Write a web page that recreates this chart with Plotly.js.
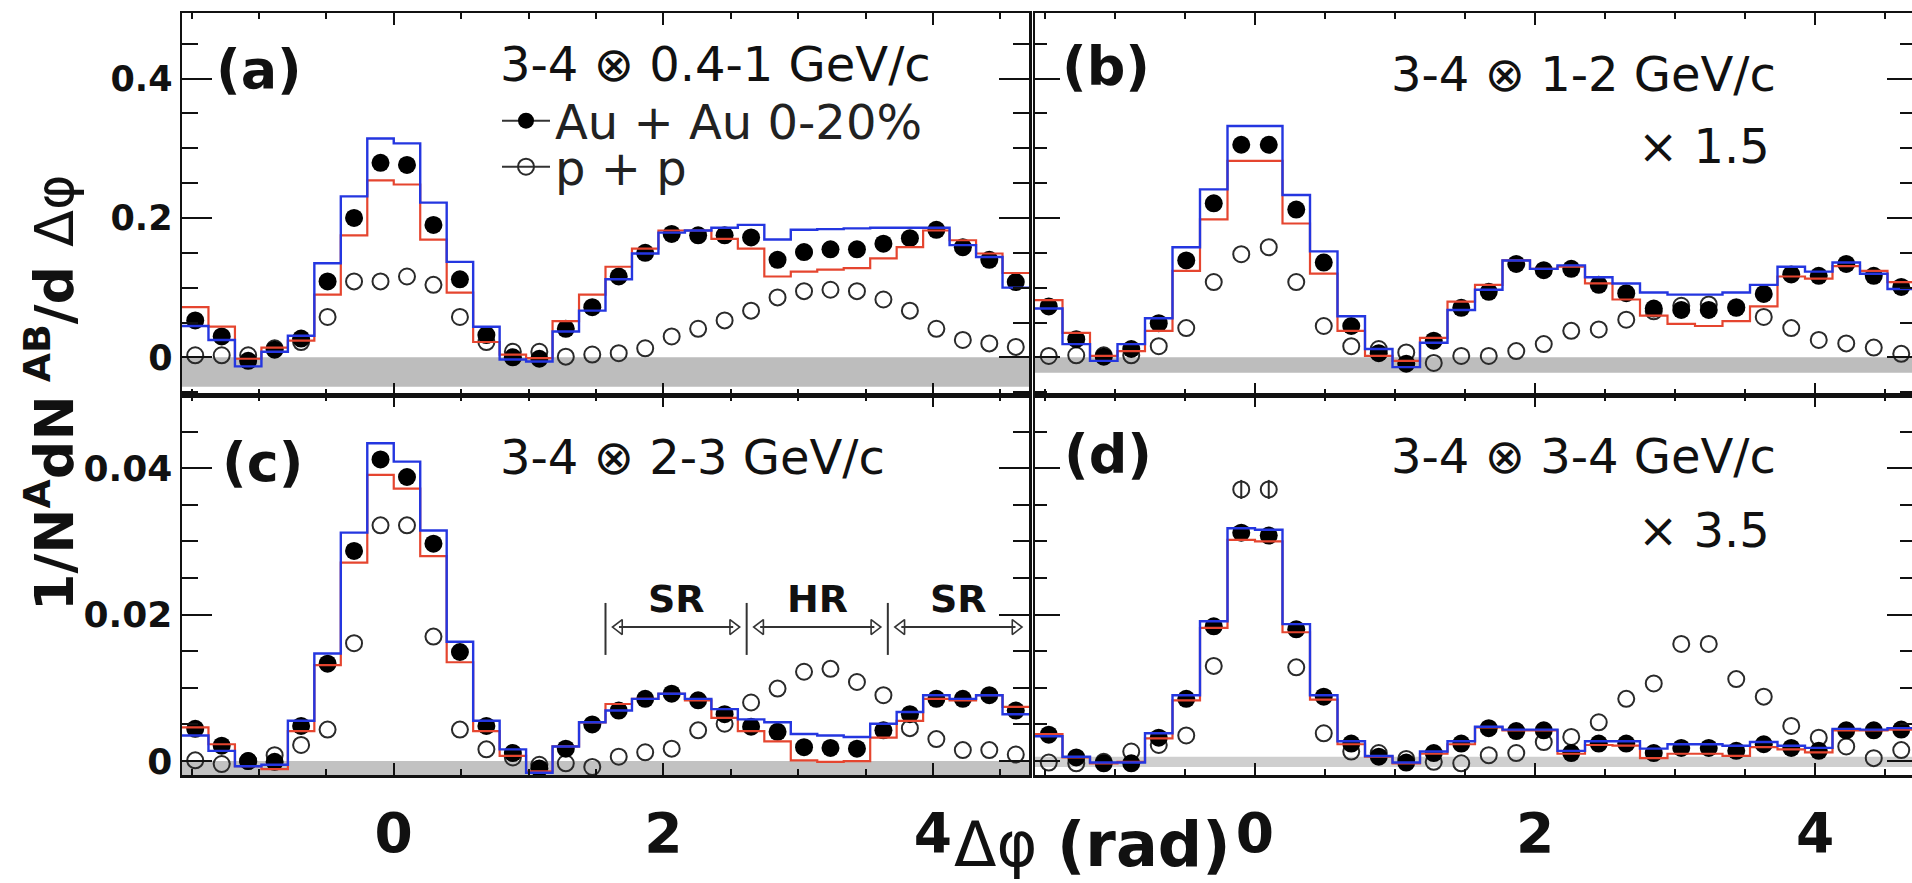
<!DOCTYPE html>
<html><head><meta charset="utf-8">
<script src="https://cdn.plot.ly/plotly-3.0.1.min.js"></script>
<style>html,body{margin:0;padding:0;background:#fff;overflow:hidden}#chart{width:1912px;height:883px}</style>
</head><body><div id="chart"></div>
<script>
const W = 1912, H = 883;
const PI = Math.PI;
const PHI_MIN = -PI / 2, PHI_MAX = 3 * PI / 2, N_BINS = 32;
const BIN_W = (PHI_MAX - PHI_MIN) / N_BINS;
const dphiCenters = Array.from({length: N_BINS}, (_, k) => PHI_MIN + (k + 0.5) * BIN_W);
const dphiEdges = Array.from({length: N_BINS + 1}, (_, k) => PHI_MIN + k * BIN_W);

// ---- panel (a): 3-4 x 0.4-1 GeV/c
const auauA = [0.053,0.030,-0.005,0.011,0.027,0.109,0.200,0.279,0.276,0.190,0.112,0.032,0.000,-0.002,0.041,0.072,0.116,0.150,0.177,0.175,0.175,0.172,0.140,0.151,0.155,0.155,0.163,0.171,0.183,0.158,0.140,0.108];
const ppA   = [0.003,0.003,0.003,0.013,0.022,0.058,0.109,0.109,0.116,0.104,0.058,0.022,0.008,0.008,0.001,0.004,0.006,0.013,0.030,0.041,0.053,0.067,0.086,0.095,0.097,0.095,0.083,0.067,0.041,0.025,0.020,0.015];
const blueA = [0.045,0.025,-0.013,0.008,0.031,0.135,0.231,0.314,0.307,0.222,0.137,0.044,-0.003,-0.006,0.037,0.067,0.112,0.149,0.179,0.182,0.186,0.190,0.169,0.183,0.184,0.185,0.186,0.186,0.186,0.161,0.144,0.100];
const redA  = [0.072,0.044,-0.002,0.014,0.024,0.090,0.175,0.254,0.248,0.169,0.093,0.022,0.004,-0.001,0.052,0.090,0.130,0.156,0.182,0.182,0.170,0.156,0.116,0.123,0.126,0.128,0.142,0.158,0.182,0.168,0.149,0.121];

// ---- panel (b): 3-4 x 1-2 GeV/c (x1.5)
const auauB = [0.073,0.026,0.001,0.012,0.049,0.139,0.221,0.305,0.305,0.212,0.136,0.045,0.006,-0.009,0.024,0.071,0.094,0.134,0.125,0.127,0.104,0.092,0.070,0.068,0.068,0.071,0.091,0.119,0.117,0.134,0.117,0.101];
const ppB   = [0.002,0.003,0.003,0.003,0.016,0.042,0.108,0.148,0.158,0.108,0.045,0.016,0.012,0.007,-0.008,0.002,0.002,0.009,0.019,0.038,0.040,0.054,0.066,0.074,0.076,0.072,0.058,0.042,0.025,0.020,0.014,0.005];
const blueB = [0.070,0.019,-0.005,0.019,0.056,0.158,0.241,0.332,0.332,0.233,0.152,0.059,0.012,-0.014,0.021,0.068,0.097,0.139,0.127,0.132,0.115,0.106,0.093,0.090,0.090,0.093,0.104,0.130,0.123,0.136,0.120,0.098];
const redB  = [0.082,0.035,0.002,0.009,0.038,0.124,0.198,0.282,0.282,0.192,0.120,0.038,0.002,-0.005,0.028,0.080,0.104,0.139,0.127,0.130,0.106,0.083,0.060,0.048,0.045,0.052,0.073,0.116,0.113,0.131,0.124,0.108];

// ---- panel (c): 3-4 x 2-3 GeV/c
const auauC = [0.0044,0.0021,0.0000,-0.0001,0.0048,0.0133,0.0287,0.0412,0.0388,0.0297,0.0149,0.0048,0.0011,-0.0010,0.0017,0.0050,0.0069,0.0085,0.0092,0.0083,0.0064,0.0047,0.0040,0.0019,0.0018,0.0017,0.0042,0.0064,0.0085,0.0085,0.0090,0.0069];
const ppC   = [0.0001,-0.0004,0.0000,0.0008,0.0022,0.0043,0.0161,0.0322,0.0322,0.0170,0.0043,0.0016,0.0005,-0.0005,-0.0003,-0.0008,0.0006,0.0012,0.0017,0.0042,0.0051,0.0080,0.0099,0.0122,0.0126,0.0108,0.0090,0.0045,0.0030,0.0015,0.0015,0.0009];
const blueC = [0.0035,0.0014,-0.0007,-0.0005,0.0055,0.0147,0.0312,0.0434,0.0409,0.0315,0.0163,0.0055,0.0016,-0.0016,0.0020,0.0053,0.0069,0.0085,0.0092,0.0085,0.0071,0.0057,0.0053,0.0037,0.0035,0.0033,0.0051,0.0067,0.0090,0.0085,0.0090,0.0064];
const redC  = [0.0046,0.0023,-0.0007,-0.0011,0.0041,0.0131,0.0271,0.0391,0.0372,0.0280,0.0135,0.0041,0.0007,-0.0014,0.0020,0.0053,0.0078,0.0085,0.0092,0.0083,0.0059,0.0041,0.0027,0.0001,-0.0001,0.0000,0.0032,0.0055,0.0085,0.0083,0.0090,0.0074];

// ---- panel (d): 3-4 x 3-4 GeV/c (x3.5)
const auauD = [0.0036,0.0005,-0.0003,-0.0003,0.0032,0.0085,0.0184,0.0312,0.0308,0.0180,0.0088,0.0024,0.0006,-0.0002,0.0011,0.0024,0.0045,0.0041,0.0042,0.0011,0.0024,0.0024,0.0011,0.0018,0.0018,0.0014,0.0023,0.0018,0.0014,0.0042,0.0042,0.0043];
const ppD   = [-0.0002,-0.0003,-0.0001,0.0013,0.0022,0.0035,0.0130,0.0371,0.0371,0.0128,0.0038,0.0013,0.0011,0.0003,-0.0001,-0.0003,0.0008,0.0011,0.0026,0.0033,0.0053,0.0085,0.0106,0.0160,0.0160,0.0112,0.0088,0.0048,0.0032,0.0020,0.0004,0.0015];
const ppErrD = [0,0,0,0,0,0,0,0.0013,0.0013,0,0,0,0,0,0,0,0,0,0,0,0,0,0,0,0,0,0,0,0,0,0,0];
const blueD = [0.0034,0.0006,-0.0002,-0.0002,0.0038,0.0090,0.0191,0.0318,0.0316,0.0187,0.0090,0.0027,0.0007,-0.0002,0.0013,0.0027,0.0047,0.0043,0.0043,0.0014,0.0027,0.0027,0.0017,0.0023,0.0023,0.0021,0.0026,0.0021,0.0018,0.0044,0.0043,0.0045];
const redD  = [0.0037,0.0005,-0.0003,-0.0001,0.0031,0.0083,0.0182,0.0302,0.0300,0.0176,0.0084,0.0023,0.0006,-0.0003,0.0010,0.0023,0.0046,0.0042,0.0042,0.0010,0.0022,0.0021,0.0004,0.0010,0.0010,0.0007,0.0019,0.0016,0.0012,0.0042,0.0042,0.0043];

// gray normalisation bands [low, high]
const bandA = [-0.042, 0.0];
const bandB = [-0.022, 0.0];
const bandC = [-0.0019, 0.0];
const bandD = [-0.0008, 0.0006];

// Away-side regions (panel c)
const regionEdges = [PI / 2, 5 * PI / 6, 7 * PI / 6, 3 * PI / 2];
const regionLabels = ['SR', 'HR', 'SR'];

const panelTitles = ['3-4 \u2297 0.4-1 GeV/c', '3-4 \u2297 1-2 GeV/c', '3-4 \u2297 2-3 GeV/c', '3-4 \u2297 3-4 GeV/c'];
const panelTags = ['(a)', '(b)', '(c)', '(d)'];
const scaleTags = ['\u00d7 1.5', '\u00d7 3.5'];
const seriesNames = ['Au + Au 0-20%', 'p + p'];
const xTickVals = [0, 2, 4];

// ---------------- helpers
const px = x => x / W;
const py = y => 1 - y / H;
const FONT = 'DejaVu Sans';
const BLUE = '#2436e0', RED = '#e5452f', INK = '#111';

function stepY(v) { return v.concat([v[v.length - 1]]); }

function panelTraces(xa, ya, auau, pp, blue, red, ppErr) {
  const t = [];
  t.push({type: 'scatter', mode: 'markers', x: dphiCenters, y: pp, xaxis: xa, yaxis: ya, showlegend: false,
    marker: {symbol: 'circle-open', size: 16, color: '#2a2a2a', line: {width: 2, color: '#2a2a2a'}},
    error_y: ppErr ? {type: 'data', array: ppErr, visible: true, color: '#2a2a2a', thickness: 2, width: 0} : undefined});
  t.push({type: 'scatter', mode: 'markers', x: dphiCenters, y: auau, xaxis: xa, yaxis: ya, showlegend: false,
    marker: {symbol: 'circle', size: 18, color: '#000'}});
  t.push({type: 'scatter', mode: 'lines', x: dphiEdges, y: stepY(red), xaxis: xa, yaxis: ya, showlegend: false,
    line: {shape: 'hv', color: RED, width: 2.2}});
  t.push({type: 'scatter', mode: 'lines', x: dphiEdges, y: stepY(blue), xaxis: xa, yaxis: ya, showlegend: false,
    line: {shape: 'hv', color: BLUE, width: 2.4}});
  return t;
}

let traces = [];
traces = traces.concat(panelTraces('x', 'y', auauA, ppA, blueA, redA));
traces = traces.concat(panelTraces('x2', 'y2', auauB, ppB, blueB, redB));
traces = traces.concat(panelTraces('x3', 'y3', auauC, ppC, blueC, redC));
traces = traces.concat(panelTraces('x4', 'y4', auauD, ppD, blueD, redD, ppErrD));

// legend entries (key only)
traces.push({type: 'scatter', mode: 'lines+markers', x: [null], y: [null], name: seriesNames[0], legend: 'legend',
  marker: {symbol: 'circle', size: 16, color: '#000'}, line: {color: '#333', width: 2}});
traces.push({type: 'scatter', mode: 'lines+markers', x: [null], y: [null], name: seriesNames[1], legend: 'legend2',
  marker: {symbol: 'circle-open', size: 16, color: '#2a2a2a', line: {width: 2}}, line: {color: '#333', width: 2}});

// region arrows heads
const arrowY = 0.0183, gap = 0.1;
const headL = regionEdges.slice(0, 3).map(e => e + gap);
const headR = regionEdges.slice(1).map(e => e - gap);
traces.push({type: 'scatter', mode: 'markers', x: headL, y: headL.map(() => arrowY), xaxis: 'x3', yaxis: 'y3', showlegend: false,
  marker: {symbol: 'triangle-left-open', size: 13, color: '#333', line: {width: 1.6}}});
traces.push({type: 'scatter', mode: 'markers', x: headR, y: headR.map(() => arrowY), xaxis: 'x3', yaxis: 'y3', showlegend: false,
  marker: {symbol: 'triangle-right-open', size: 13, color: '#333', line: {width: 1.6}}});

// ---------------- axes
const LEFT_X = [182, 1029], RIGHT_X = [1035, 1915];
const TOP_Y = [13, 395], BOT_Y = [395, 775];
const rightEnd = PHI_MIN + (W - RIGHT_X[0]) / (RIGHT_X[1] - RIGHT_X[0]) * (PHI_MAX - PHI_MIN);
const common = {showline: true, linecolor: INK, linewidth: 2.5, mirror: 'allticks', ticks: 'inside', tickcolor: INK,
  tickwidth: 2, showgrid: false, zeroline: false, fixedrange: true};

function xAxis(domPx, range, anchor, labels) {
  return Object.assign({}, common, {domain: [px(domPx[0]), Math.min(1, px(domPx[1]))], range, anchor,
    tickmode: 'array', tickvals: xTickVals, ticktext: xTickVals.map(String), ticklen: 12,
    minor: {tick0: 0, dtick: 0.5, ticklen: 6, tickwidth: 2, tickcolor: INK, ticks: 'inside', showgrid: false},
    showticklabels: labels, ticklabelstandoff: 8,
    tickfont: {family: FONT, size: 55, color: INK, weight: 'bold'}});
}
function yAxis(domPy, range, anchor, labels, major, minor, fsize, tl, tlm) {
  return Object.assign({}, common, {domain: [py(domPy[1]), py(domPy[0])], range, anchor,
    tickmode: 'linear', tick0: 0, dtick: major, ticklen: tl,
    minor: {tick0: 0, dtick: minor, ticklen: tlm, tickwidth: 2, tickcolor: INK, ticks: 'inside', showgrid: false},
    showticklabels: labels, ticklabelstandoff: 0,
    tickfont: {family: FONT, size: fsize, color: INK, weight: 'bold'}});
}

const yTopRange = [-0.054, 0.494];
const yBotRange = [-0.0019, 0.0500];

const legendBase = {xanchor: 'left', yanchor: 'middle', bgcolor: 'rgba(0,0,0,0)', borderwidth: 0,
  font: {family: FONT, size: 48, color: '#222'}, itemwidth: 48};

const layout = {
  width: W, height: H, margin: {l: 0, r: 0, t: 0, b: 0},
  paper_bgcolor: '#fff', plot_bgcolor: '#fff', showlegend: true,
  xaxis:  xAxis(LEFT_X, [PHI_MIN, PHI_MAX], 'y', false),
  yaxis:  yAxis(TOP_Y, yTopRange, 'x', true, 0.2, 0.05, 35, 30, 16),
  xaxis2: xAxis(RIGHT_X, [PHI_MIN, rightEnd], 'y2', false),
  yaxis2: yAxis(TOP_Y, yTopRange, 'x2', false, 0.2, 0.05, 35, 25, 12),
  xaxis3: xAxis(LEFT_X, [PHI_MIN, PHI_MAX], 'y3', true),
  yaxis3: yAxis(BOT_Y, yBotRange, 'x3', true, 0.02, 0.005, 36, 30, 16),
  xaxis4: xAxis(RIGHT_X, [PHI_MIN, rightEnd], 'y4', true),
  yaxis4: yAxis(BOT_Y, yBotRange, 'x4', false, 0.02, 0.005, 36, 25, 12),
  legend: Object.assign({x: px(497), y: py(121)}, legendBase),
  legend2: Object.assign({x: px(497), y: py(167)}, legendBase),
  shapes: [],
  annotations: []
};

// bands
[['x', 'y', bandA, '#bdbdbd'], ['x2', 'y2', bandB, '#bdbdbd'], ['x3', 'y3', bandC, '#c2c2c2'], ['x4', 'y4', bandD, '#cfcfcf']].forEach(([xa, ya, b, c]) => {
  layout.shapes.push({type: 'rect', xref: xa + ' domain', x0: 0, x1: 1, yref: ya, y0: b[0], y1: b[1],
    fillcolor: c, line: {width: 0}, layer: 'below'});
});
// region bars + arrows
regionEdges.slice(0, 3).forEach(e => {
  layout.shapes.push({type: 'line', xref: 'x3', yref: 'y3', x0: e, x1: e, y0: 0.0145, y1: 0.0216, line: {color: '#333', width: 2}});
});
for (let i = 0; i < 3; i++) {
  layout.shapes.push({type: 'line', xref: 'x3', yref: 'y3', x0: headL[i], x1: headR[i], y0: arrowY, y1: arrowY, line: {color: '#333', width: 2}});
  layout.annotations.push({xref: 'x3', yref: 'y3', x: (regionEdges[i] + regionEdges[i + 1]) / 2, y: 0.0222,
    text: '<b>' + regionLabels[i] + '</b>', showarrow: false, xanchor: 'center', yanchor: 'middle',
    font: {family: FONT, size: 38, color: INK}});
}

function ann(x, y, text, size, xanchor, extra) {
  layout.annotations.push(Object.assign({xref: 'paper', yref: 'paper', x: px(x), y: py(y), text, showarrow: false,
    xanchor: xanchor || 'left', yanchor: 'middle', font: {family: FONT, size, color: INK}}, extra || {}));
}
// panel tags
ann(214, 70, '<b>' + panelTags[0] + '</b>', 54);
ann(1060, 66, '<b>' + panelTags[1] + '</b>', 54);
ann(220, 462, '<b>' + panelTags[2] + '</b>', 54);
ann(1062, 454, '<b>' + panelTags[3] + '</b>', 54);
// panel titles
ann(498, 64, panelTitles[0], 48, 'left');
ann(1778, 74, panelTitles[1], 48, 'right');
ann(498, 457, panelTitles[2], 48, 'left');
ann(1778, 456, panelTitles[3], 48, 'right');
ann(1772, 146, scaleTags[0], 48, 'right');
ann(1772, 530, scaleTags[1], 48, 'right');
// axis titles
ann(50, 393, '<b>1/N<sup>A</sup>dN<sup> AB</sup>/d </b>\u0394\u03c6', 54, 'center', {textangle: -90});
ann(1092, H, '\u0394\u03c6 <b>(rad)</b>', 62, 'center', {yanchor: 'bottom'});

Plotly.newPlot('chart', traces, layout, {staticPlot: true, displayModeBar: false});
</script>
</body></html>
